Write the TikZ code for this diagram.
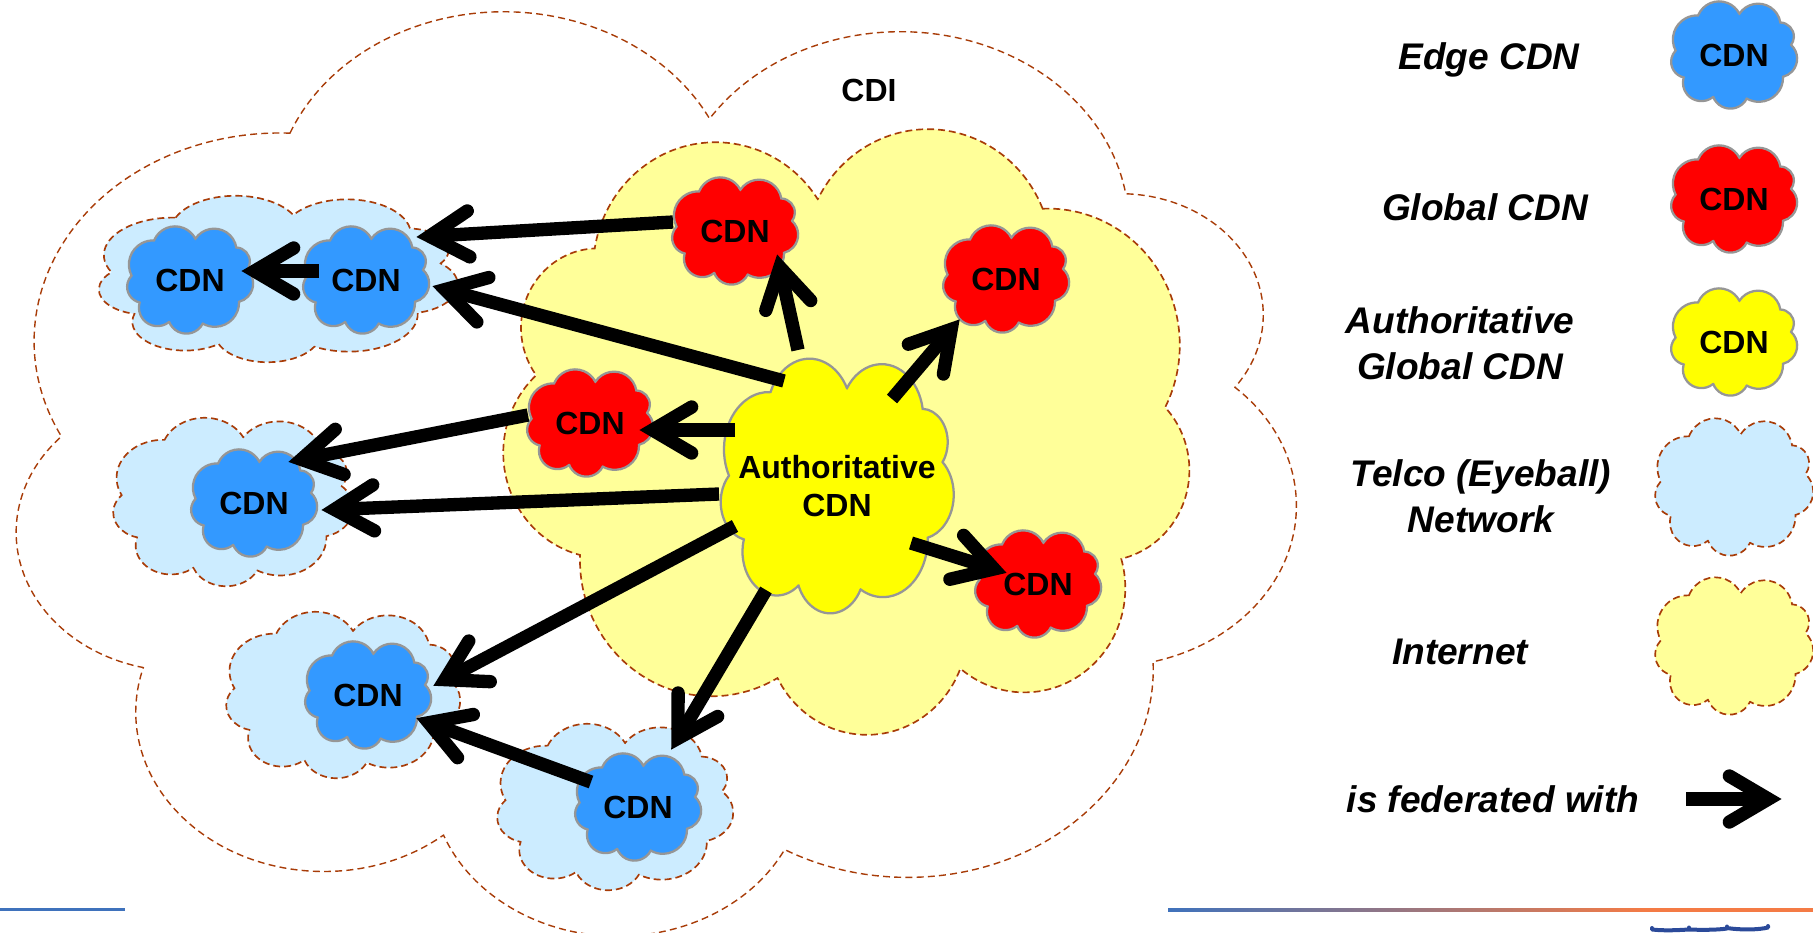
\documentclass[tikz,border=0pt]{standalone}
\usepackage{fontspec}
\setmainfont{Liberation Sans}
\definecolor{dashbrown}{HTML}{A83C08}
\definecolor{cblue}{HTML}{3399FF}
\definecolor{cred}{HTML}{FF0000}
\definecolor{cyel}{HTML}{FFFF00}
\definecolor{ctelco}{HTML}{CCECFF}
\definecolor{cinet}{HTML}{FFFF99}
\definecolor{cgrey}{HTML}{969696}
\definecolor{ruleblue}{HTML}{3F72BC}
\definecolor{ruleorange}{HTML}{F47B45}
\definecolor{logoblue}{HTML}{2B4A9A}
\pgfdeclarehorizontalshading{rulesh}{100bp}{color(0bp)=(ruleblue); color(25bp)=(ruleblue); color(62bp)=(ruleorange); color(100bp)=(ruleorange)}
\pgfdeclarearrow{
  name=Fed,
  setup code={
    \pgfarrowssettipend{0pt}
    \pgfarrowssetlineend{-12pt}
    \pgfarrowssetvisualbackend{-12pt}
    \pgfarrowssetbackend{-44pt}
  },
  drawing code={
    \pgfsetdash{}{0pt}
    \pgfsetlinewidth{10pt}
    \pgfsetroundcap
    \pgfsetmiterjoin
    \pgfsetmiterlimit{10}
    \pgfpathmoveto{\pgfqpoint{-39.5pt}{17.25pt}}
    \pgfpathlineto{\pgfqpoint{-10.2pt}{0pt}}
    \pgfpathlineto{\pgfqpoint{-39.5pt}{-17.25pt}}
    \pgfusepathqstroke
  },
}
\tikzset{
  cdnline/.style={draw=cgrey,line width=1.7pt},
  netline/.style={draw=dashbrown,line width=1.25pt,dash pattern=on 5.2pt off 3pt},
  cdiline/.style={draw=dashbrown,line width=1.05pt,dash pattern=on 5.2pt off 3.2pt},
  lab/.style={font=\fontsize{24}{28.6}\selectfont\bfseries,inner sep=0pt,align=center},
  leg/.style={font=\fontsize{27.8}{34.5}\selectfont\bfseries\itshape,inner sep=0pt,align=center},
  fed/.style={line width=10pt,-Fed},
}
% circle through three points (hundredths of the cloud's drawing units)
\newcommand\lobedef[7]{%
  \pgfmathsetmacro\lA{#4-#2}\pgfmathsetmacro\lB{#5-#3}%
  \pgfmathsetmacro\lC{#6-#2}\pgfmathsetmacro\lD{#7-#3}%
  \pgfmathsetmacro\lE{\lA*(#2+#4)+\lB*(#3+#5)}%
  \pgfmathsetmacro\lF{\lC*(#2+#6)+\lD*(#3+#7)}%
  \pgfmathsetmacro\lG{2*(\lA*(#7-#5)-\lB*(#6-#4))}%
  \pgfmathsetmacro\lX{(\lD*\lE-\lB*\lF)/\lG}%
  \pgfmathsetmacro\lY{(\lA*\lF-\lC*\lE)/\lG}%
  \pgfmathsetmacro\lR{100*sqrt((#2-\lX)^2+(#3-\lY)^2)}%
  \pgfmathsetmacro\lS{atan2(#3-\lY,#2-\lX)}%
  \pgfmathsetmacro\lT{atan2(#7-\lY,#6-\lX)}%
  \pgfmathsetmacro\lU{mod(\lT-\lS+720,360)}%
  \expandafter\xdef\csname lobeS#1\endcsname{\lS}%
  \expandafter\xdef\csname lobeU#1\endcsname{\lU}%
  \expandafter\xdef\csname lobeR#1\endcsname{\lR}%
}
\newcommand\lobearc[1]{arc[start angle=\csname lobeS#1\endcsname,delta angle=\csname lobeU#1\endcsname,radius=\csname lobeR#1\endcsname]}
\lobedef{a}{-1.07}{-1.18}{-.44}{-1.60}{.16}{-1.23}
\lobedef{b}{.16}{-1.23}{.68}{-1.53}{1.38}{-.97}
\lobedef{c}{1.38}{-.97}{1.78}{-.60}{1.70}{-.30}
\lobedef{d}{1.70}{-.30}{1.88}{.10}{1.46}{.65}
\lobedef{e}{1.46}{.65}{1.10}{1.30}{.38}{1.30}
\lobedef{f}{.38}{1.30}{-.12}{1.60}{-.62}{1.25}
\lobedef{g}{-.62}{1.25}{-1.25}{1.30}{-1.50}{.67}
\lobedef{h}{-1.50}{.67}{-1.87}{.25}{-1.74}{-.13}
\lobedef{i}{-1.74}{-.13}{-1.67}{-.90}{-1.07}{-1.18}
% \cloudat{cx}{cy}{w}{h}{style}; a negative w mirrors the cloud
\newcommand\cloudat[5]{%
  \begin{scope}[shift={(#1,#2)},x=#3*0.002pt,y=-#4*0.00234375pt]
  \path[#5] (-107,-118) \lobearc{a} -- (16,-123) \lobearc{b} -- (138,-97) \lobearc{c}
   -- (170,-30) \lobearc{d} -- (146,65) \lobearc{e} -- (38,130) \lobearc{f}
   -- (-62,125) \lobearc{g} -- (-150,67) \lobearc{h} -- (-174,-13) \lobearc{i} -- cycle;
  \end{scope}}
\newcommand\cdncloud[3]{\cloudat{#1}{#2}{126}{107}{cdnline,fill=#3}}
\begin{document}
\begin{tikzpicture}[x=0.75pt,y=-0.75pt]
\useasboundingbox (0,0) rectangle (1813,932);
% clouds
\cloudat{655}{474}{1280}{922}{cdiline}
\cloudat{847}{432}{-686}{604}{netline,fill=cinet}
\cloudat{278}{279}{359}{166}{netline,fill=ctelco}
\cloudat{233}{502}{240}{168}{netline,fill=ctelco}
\cloudat{343}{695}{234}{166}{netline,fill=ctelco}
\cloudat{615}{807}{236}{166}{netline,fill=ctelco}
\cloudat{837}{486}{233}{254}{cdnline,fill=cyel}
\cdncloud{190}{280}{cblue}
\cdncloud{366}{280}{cblue}
\cdncloud{735}{231}{cred}
\cdncloud{1006}{279}{cred}
\cdncloud{590}{423}{cred}
\cdncloud{1038}{584}{cred}
\cdncloud{254}{503}{cblue}
\cdncloud{368}{695}{cblue}
\cdncloud{638}{807}{cblue}
% legend clouds
\cdncloud{1734}{55}{cblue}
\cdncloud{1734}{199}{cred}
\cdncloud{1734}{342}{cyel}
\cloudat{1734}{487}{158}{137}{netline,fill=ctelco}
\cloudat{1734}{646}{158}{137}{netline,fill=cinet}
% labels
\node[lab] (cdi) at (869,90) {CDI};
\node[lab] (auth) at (837,486) {Authoritative\\CDN};
\node[lab] (e1) at (190,280) {CDN};
\node[lab] (e2) at (366,280) {CDN};
\node[lab] (gt) at (735,231) {CDN};
\node[lab] (gr) at (1006,279) {CDN};
\node[lab] (gl) at (590,423) {CDN};
\node[lab] (gb) at (1038,584) {CDN};
\node[lab] (e3) at (254,503) {CDN};
\node[lab] (e4) at (368,695) {CDN};
\node[lab] (e5) at (638,807) {CDN};
% connectors
\draw[fed] ([shift={(-62,-9)}]gt.center) -- ([shift={(50,-43)}]e2.center);
\draw[fed] ([shift={(-53,-105)}]auth.center) -- ([shift={(66,6)}]e2.center);
\draw[fed] ([shift={(-47,-9)}]e2.center) -- ([shift={(51,-9)}]e1.center);
\draw[fed] ([shift={(-62,-8)}]gl.center) -- ([shift={(34,-41)}]e3.center);
\draw[fed] ([shift={(-102,-56)}]auth.center) -- ([shift={(49,7)}]gl.center);
\draw[fed] ([shift={(-118,8)}]auth.center) -- ([shift={(67,7)}]e3.center);
\draw[fed] ([shift={(-102,40)}]auth.center) -- ([shift={(65,-9)}]e4.center);
\draw[fed] ([shift={(-47,-25)}]e5.center) -- ([shift={(48,23)}]e4.center);
\draw[fed] ([shift={(-71,104)}]auth.center) -- ([shift={(33,-57)}]e5.center);
\draw[fed] ([shift={(-39,-136)}]auth.center) -- ([shift={(42,23)}]gt.center);
\draw[fed] ([shift={(55,-87)}]auth.center) -- ([shift={(-46,40)}]gr.center);
\draw[fed] ([shift={(74,57)}]auth.center) -- ([shift={(-31,-11)}]gb.center);
% legend text
\node[leg] (l1) at (1489,60) {Edge CDN};
\node[leg] (l2) at (1485,207) {Global CDN};
\node[leg] (l3) at (1460,343) {Authoritative\\Global CDN};
\node[leg] (l4) at (1481,496) {Telco (Eyeball)\\Network};
\node[leg] (l5) at (1460,652) {Internet};
\node[leg] (l6) at (1493,799) {is federated with};
\node[lab] (c1) at (1734,55) {CDN};
\node[lab] (c2) at (1734,199) {CDN};
\node[lab] (c3) at (1734,342) {CDN};
\coordinate (la) at (1686,799);
\coordinate (lb) at (1782,799);
\draw[fed] (la) -- (lb);
% footer rules
\fill[ruleblue] (0,908) rectangle (125,911);
\shade[shading=rulesh] (1168,908) rectangle (1813,911);
\draw[logoblue,line width=3pt,line cap=round,line join=round] (1652,928) -- (1652,929.5) .. controls (1665,931) and (1680,930) .. (1689,929.5) -- (1689,927.5) -- (1689,929.5) .. controls (1700,930) and (1718,930) .. (1727,928.5) -- (1727,926.5) -- (1727,928) .. controls (1740,930) and (1758,930) .. (1768,927.5) -- (1768,926);
\end{tikzpicture}
\end{document}
